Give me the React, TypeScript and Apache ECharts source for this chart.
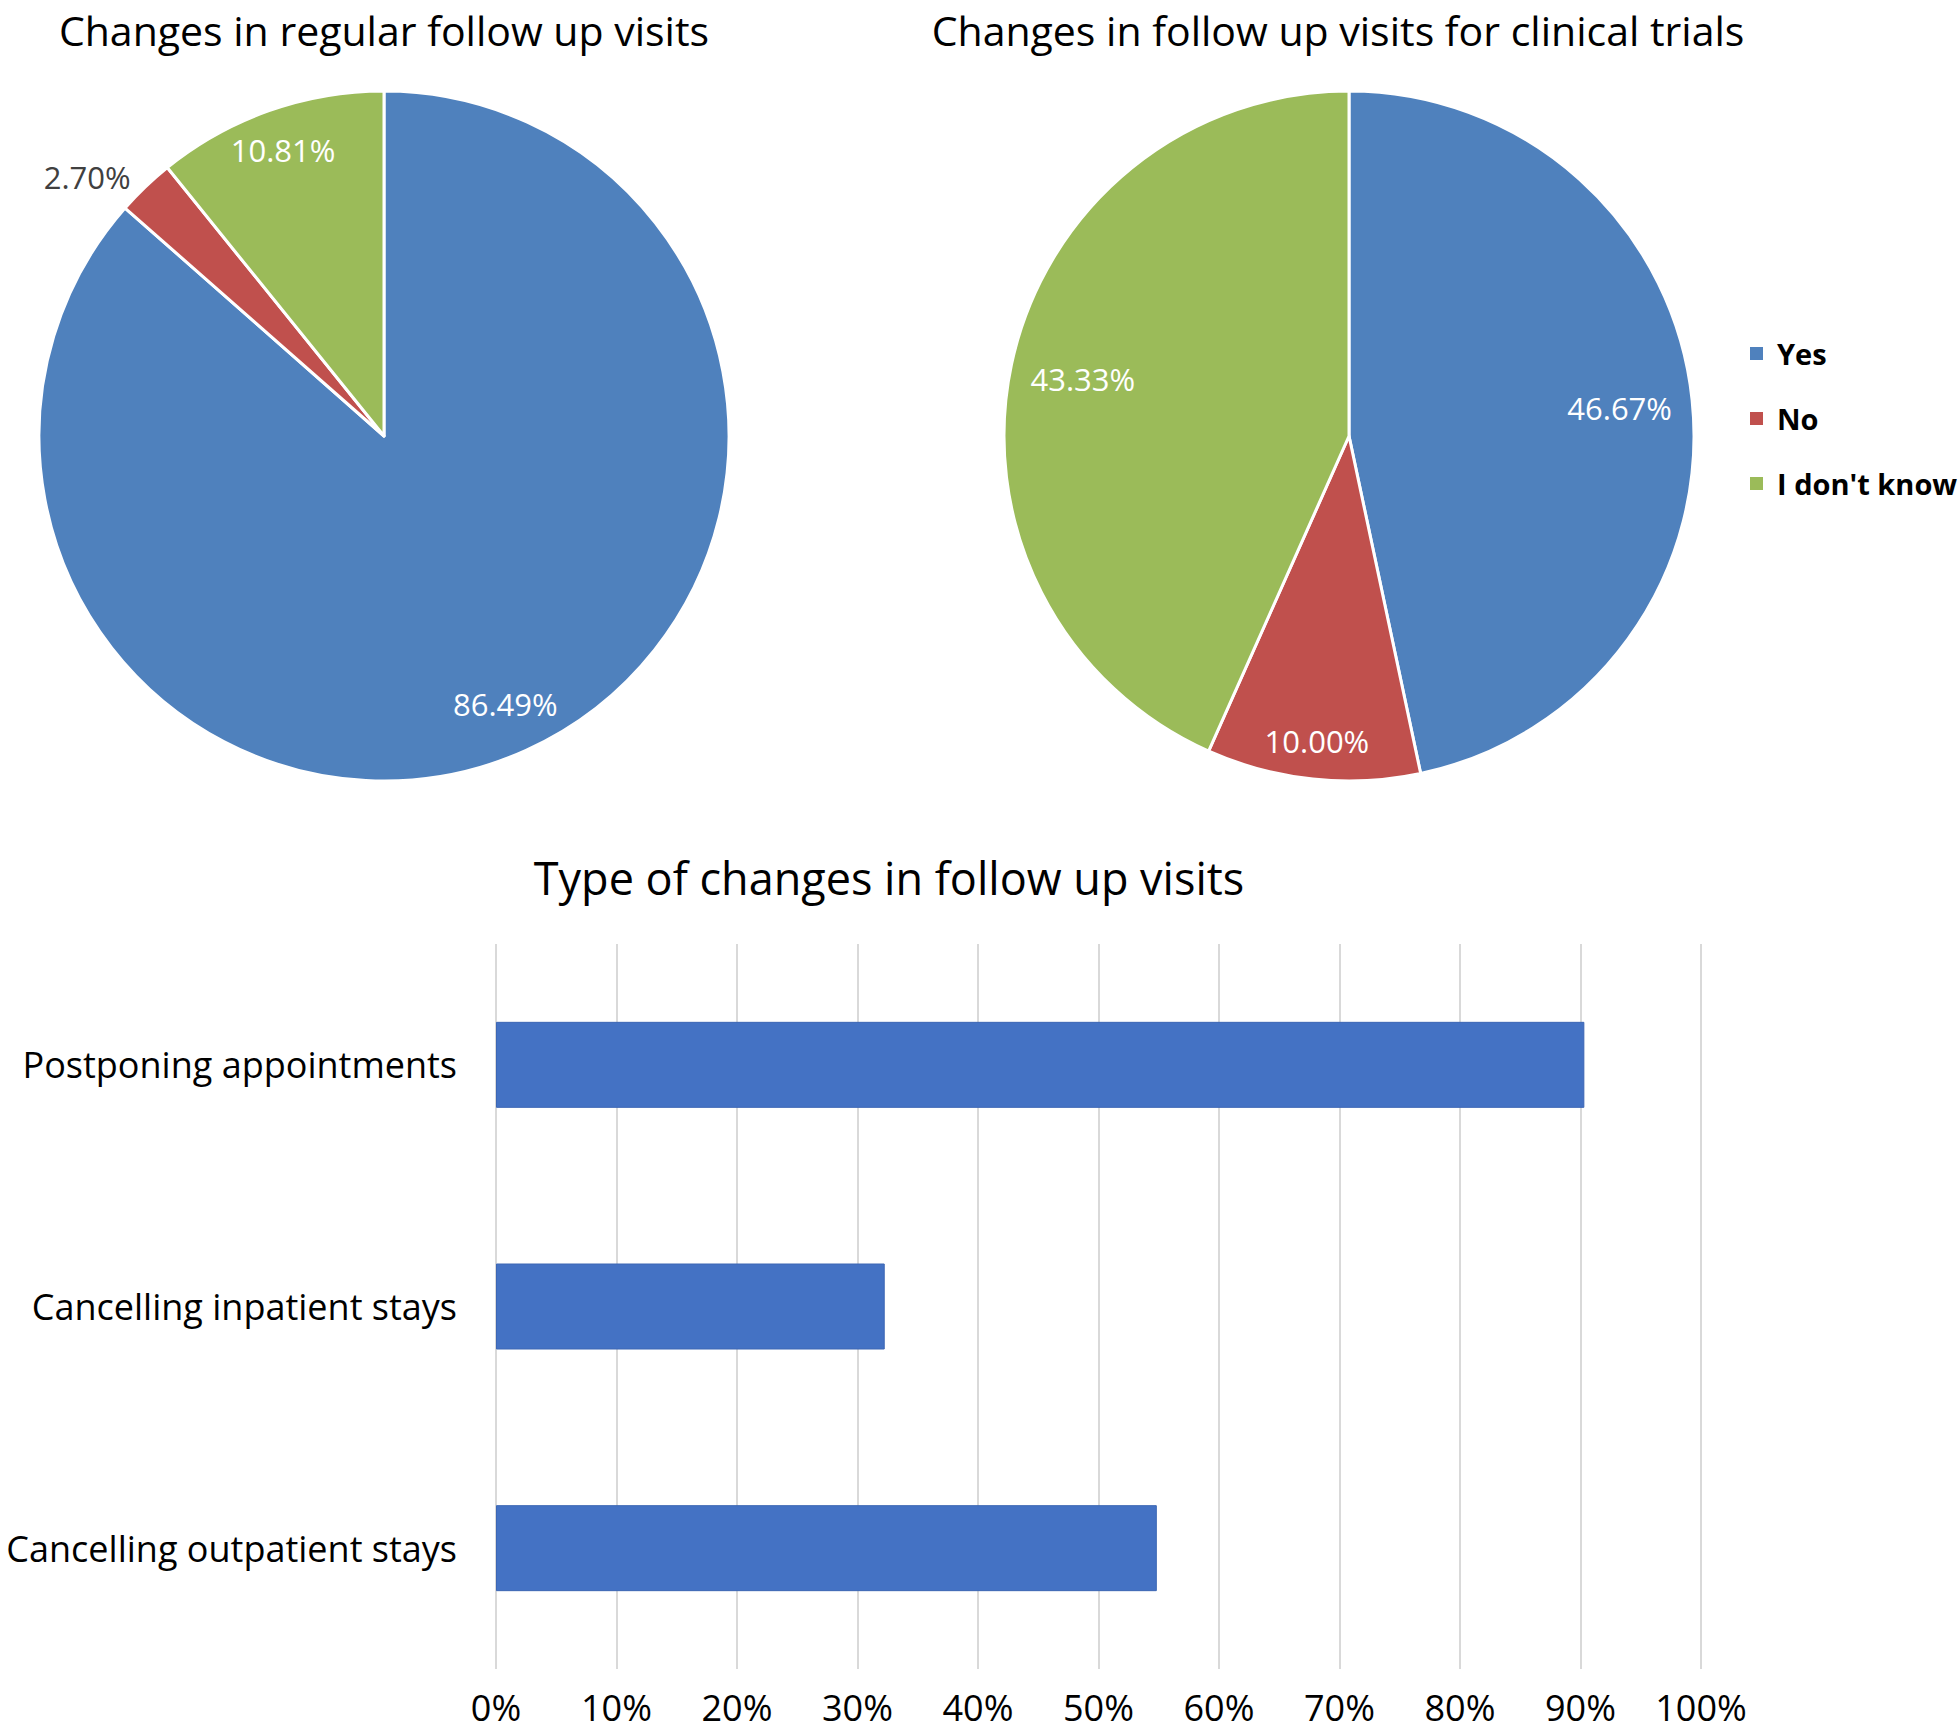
import React, { useEffect, useRef } from "react";
import * as echarts from "echarts";

const answerNames = ["Yes", "No", "I don't know"];
const answerColors = ["#4F81BD", "#C0504D", "#9BBB59"];
const regularVisits = [86.49, 2.7, 10.81];
const trialVisits = [46.67, 10.0, 43.33];

const changeTypes = [
  "Postponing appointments",
  "Cancelling inpatient stays",
  "Cancelling outpatient stays",
];
const changeShares = [90.32, 32.26, 54.84];

const titles = [
  "Changes in regular follow up visits",
  "Changes in follow up visits for clinical trials",
  "Type of changes in follow up visits",
];

const FONT = "'Open Sans', 'DejaVu Sans', sans-serif";
const pct = (v: number) => v.toFixed(2) + "%";

function baseData(values: number[]) {
  return values.map((v, i) => ({
    name: answerNames[i],
    value: v,
    itemStyle: { color: answerColors[i] },
  }));
}

function overlay(
  center: number[],
  values: number[],
  inner: number,
  outer: number,
  show: number[]
) {
  return {
    type: "pie",
    center,
    radius: [inner, outer],
    startAngle: 90,
    clockwise: true,
    silent: true,
    avoidLabelOverlap: false,
    legendHoverLink: false,
    itemStyle: { color: "rgba(0,0,0,0)", borderWidth: 0 },
    labelLine: { show: false },
    data: values.map((v, i) => ({
      name: answerNames[i],
      value: v,
      itemStyle: { color: "rgba(0,0,0,0)" },
      label: {
        show: show.includes(i),
        position: "inside",
        formatter: () => pct(v),
        color: "#ffffff",
        fontSize: 31,
        fontFamily: FONT,
      },
    })),
  };
}

export default function App() {
  const ref = useRef<HTMLDivElement>(null);
  useEffect(() => {
    if (!ref.current) return;
    const chart = echarts.init(ref.current, null, { renderer: "svg" });
    const R = 345;
    const c1 = [384, 436];
    const c2 = [1349, 436];

    const pie1Data = baseData(regularVisits).map((d, i) =>
      i === 1
        ? {
            ...d,
            label: {
              show: true,
              position: "outside",
              formatter: () => pct(d.value),
              color: "#404040",
              fontSize: 31,
              fontFamily: FONT,
              distanceToLabelLine: 5,
            },
            labelLine: { show: false, length: 14, length2: 0 },
          }
        : d
    );

    const option: any = {
      animation: false,
      backgroundColor: "#ffffff",
      graphic: [
        {
          type: "text",
          x: 384,
          y: 30,
          style: {
            text: titles[0],
            fontSize: 41,
            fontFamily: FONT,
            fill: "#000",
            align: "center",
            verticalAlign: "middle",
          },
        },
        {
          type: "text",
          x: 1338,
          y: 30,
          style: {
            text: titles[1],
            fontSize: 41,
            fontFamily: FONT,
            fill: "#000",
            align: "center",
            verticalAlign: "middle",
          },
        },
        {
          type: "text",
          x: 889,
          y: 877,
          style: {
            text: titles[2],
            fontSize: 45,
            fontFamily: FONT,
            fill: "#000",
            align: "center",
            verticalAlign: "middle",
          },
        },
      ],
      legend: {
        orient: "vertical",
        left: 1743,
        top: 334,
        data: answerNames,
        icon: "rect",
        itemWidth: 15,
        itemHeight: 15,
        itemGap: 36,
        textStyle: {
          fontSize: 29,
          fontWeight: "bold",
          fontFamily: FONT,
          color: "#000",
          padding: [0, 0, 0, 8],
        },
        selectedMode: false,
      },
      grid: { left: 496, right: 259, top: 944, bottom: 64, containLabel: false },
      xAxis: {
        type: "value",
        min: 0,
        max: 100,
        interval: 10,
        axisLine: { show: false },
        axisTick: { show: false },
        splitLine: { show: true, lineStyle: { color: "#d9d9d9", width: 2 } },
        axisLabel: {
          formatter: "{value}%",
          fontSize: 36,
          fontFamily: FONT,
          color: "#000",
          margin: 20,
        },
      },
      yAxis: {
        type: "category",
        data: changeTypes,
        inverse: true,
        axisLine: { show: false },
        axisTick: { show: false },
        splitLine: { show: false },
        axisLabel: {
          fontSize: 36,
          fontFamily: FONT,
          color: "#000",
          margin: 39,
        },
      },
      series: [
        {
          type: "pie",
          center: c1,
          radius: [0, R],
          startAngle: 90,
          clockwise: true,
          avoidLabelOverlap: false,
          itemStyle: { borderColor: "#ffffff", borderWidth: 3 },
          label: { show: false },
          labelLine: { show: false },
          data: pie1Data,
        },
        {
          type: "pie",
          center: c2,
          radius: [0, R],
          startAngle: 90,
          clockwise: true,
          avoidLabelOverlap: false,
          itemStyle: { borderColor: "#ffffff", borderWidth: 3 },
          label: { show: false },
          labelLine: { show: false },
          data: baseData(trialVisits),
        },
        overlay(c1, regularVisits, 0.69 * R, R, [0]),
        overlay(c1, regularVisits, 0.74 * R, R, [2]),
        overlay(c2, trialVisits, 0.56 * R, R, [0, 2]),
        overlay(c2, trialVisits, 0.76 * R, R, [1]),
        {
          type: "bar",
          data: changeShares,
          barWidth: 86,
          itemStyle: { color: "#4472C4", borderColor: "#3C66B4", borderWidth: 1 },
          label: { show: false },
        },
      ],
    };
    chart.setOption(option);
    return () => chart.dispose();
  }, []);
  return (
    <div
      ref={ref}
      style={{
        position: "absolute",
        left: 0,
        top: 0,
        width: 1960,
        height: 1733,
        background: "#fff",
      }}
    />
  );
}
